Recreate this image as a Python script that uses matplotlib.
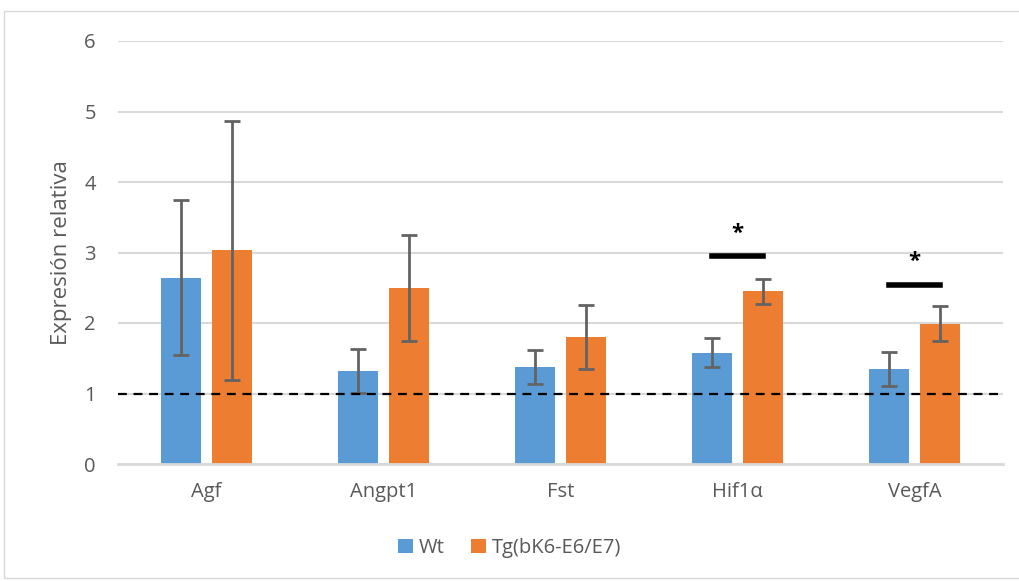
import matplotlib
matplotlib.use("Agg")
import matplotlib.pyplot as plt
import numpy as np

# ========== Data ==========
categories = ["Agf", "Angpt1", "Fst", "Hif1α", "VegfA"]
wt_mean = [2.64, 1.32, 1.38, 1.58, 1.35]
wt_err = [1.10, 0.31, 0.24, 0.21, 0.24]
tg_mean = [3.03, 2.50, 1.80, 2.45, 1.99]
tg_err = [1.84, 0.75, 0.45, 0.18, 0.25]
series_names = ["Wt", "Tg(bK6-E6/E7)"]

# significance marks: category index, bar height, star height
sig_idx = [3, 4]
sig_line_y = [2.95, 2.54]
sig_star_y = [3.27, 2.87]

# ========== Style ==========
BLUE = "#5B9BD5"
ORANGE = "#ED7D31"
GRID = "#D9D9D9"
TEXT = "#595959"
plt.rcParams["font.family"] = ["Open Sans", "DejaVu Sans"]

fig = plt.figure(figsize=(10.19, 5.81), dpi=100)
ax = fig.add_axes([118 / 1019, 1 - 464 / 581, (1003 - 118) / 1019, (464 - 41) / 581])

x = np.arange(len(categories))
w = 0.226
off = 0.143
ax.bar(x - off, wt_mean, w, color=BLUE, zorder=2, label=series_names[0])
ax.bar(x + off, tg_mean, w, color=ORANGE, zorder=2, label=series_names[1])
ax.errorbar(x - off, wt_mean, yerr=wt_err, fmt="none", ecolor="#636363",
            elinewidth=2, capsize=6, capthick=2, zorder=3)
ax.errorbar(x + off, tg_mean, yerr=tg_err, fmt="none", ecolor="#636363",
            elinewidth=2, capsize=6, capthick=2, zorder=3)

# reference line at 1
ax.axhline(1, color="black", linestyle=(0, (4, 3)), linewidth=1.6, zorder=4)

# significance bars
for i, ly, sy in zip(sig_idx, sig_line_y, sig_star_y):
    ax.plot([i - 0.145, i + 0.145], [ly, ly], color="black", linewidth=4, zorder=4)
    ax.text(i, sy, "*", ha="center", va="center", fontsize=16, fontweight="bold", color="black")

ax.set_xlim(-0.5, len(categories) - 0.5)
ax.set_ylim(0, 6)
ax.set_yticks(range(0, 7))
ax.yaxis.grid(True, color=GRID, linewidth=1.5, zorder=0)
ax.set_axisbelow(True)
for s in ["top", "right", "left"]:
    ax.spines[s].set_visible(False)
ax.spines["bottom"].set_color(GRID)
ax.spines["bottom"].set_linewidth(2)
ax.set_xticks(x)
ax.set_xticklabels(categories)
ax.tick_params(axis="both", length=0, labelsize=14.5, colors=TEXT)
ax.tick_params(axis="x", pad=13)
ax.tick_params(axis="y", pad=16)
ax.set_ylabel("Expresión relativa", fontsize=16, color=TEXT, labelpad=9)

fig.legend(loc="center", bbox_to_anchor=(0.5, 1 - 548 / 581), ncol=2, frameon=False,
           fontsize=14.5, labelcolor=TEXT, handlelength=0.75, handleheight=0.75,
           columnspacing=1.3, handletextpad=0.3)

# outer border like the Excel chart area
fig.patches.append(plt.Rectangle((4 / 1019, 0.005), 1.2, 1 - 11 / 581 - 0.005, transform=fig.transFigure,
                                 fill=False, edgecolor="#D9D9D9", linewidth=1))

fig.savefig("out.png", dpi=100)
